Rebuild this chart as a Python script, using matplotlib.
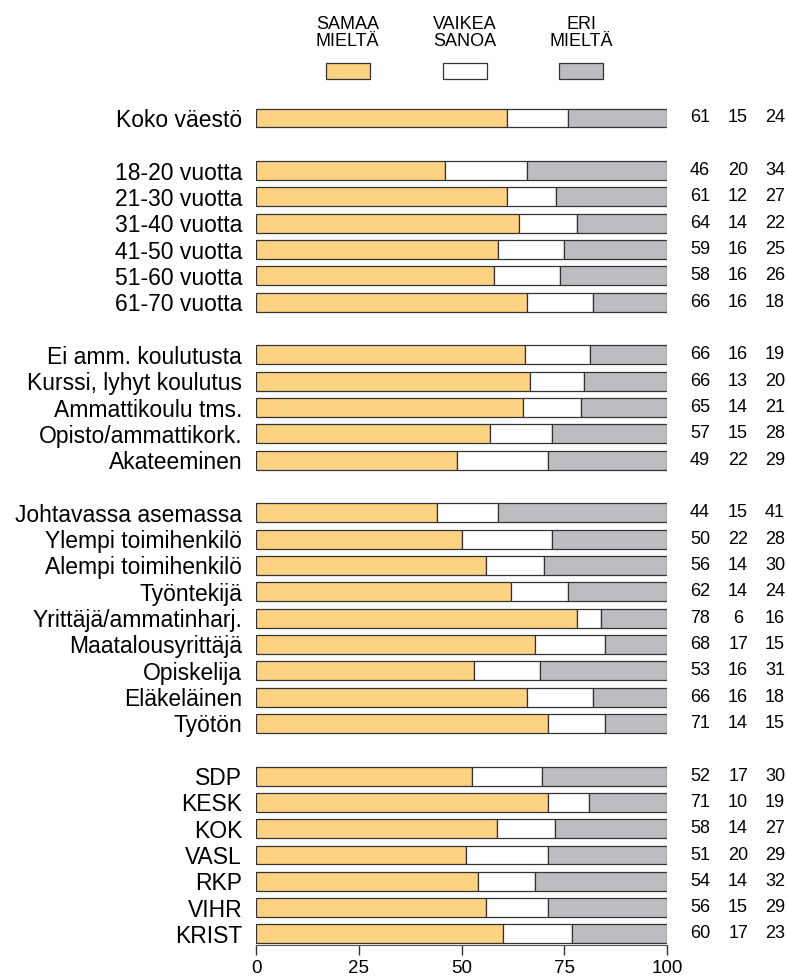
import matplotlib.pyplot as plt
import matplotlib.transforms as mtransforms
import numpy as np

plt.rcParams['font.family'] = ['Liberation Sans', 'DejaVu Sans']

# rows in display order, None marks a blank spacer row
labels = [
    "Koko väestö", None,
    "18-20 vuotta", "21-30 vuotta", "31-40 vuotta", "41-50 vuotta", "51-60 vuotta", "61-70 vuotta", None,
    "Ei amm. koulutusta", "Kurssi, lyhyt koulutus", "Ammattikoulu tms.", "Opisto/ammattikork.", "Akateeminen", None,
    "Johtavassa asemassa", "Ylempi toimihenkilö", "Alempi toimihenkilö", "Työntekijä",
    "Yrittäjä/ammatinharj.", "Maatalousyrittäjä", "Opiskelija", "Eläkeläinen", "Työtön", None,
    "SDP", "KESK", "KOK", "VASL", "RKP", "VIHR", "KRIST",
]
samaa = [61, 46, 61, 64, 59, 58, 66, 66, 66, 65, 57, 49,
         44, 50, 56, 62, 78, 68, 53, 66, 71, 52, 71, 58, 51, 54, 56, 60]
vaikea = [15, 20, 12, 14, 16, 16, 16, 16, 13, 14, 15, 22,
          15, 22, 14, 14, 6, 17, 16, 16, 14, 17, 10, 14, 20, 14, 15, 17]
eri = [24, 34, 27, 22, 25, 26, 18, 19, 20, 21, 28, 29,
       41, 28, 30, 24, 16, 15, 31, 18, 15, 30, 19, 27, 29, 32, 29, 23]

legend_labels = ["SAMAA\nMIELTÄ", "VAIKEA\nSANOA", "ERI\nMIELTÄ"]
colors = ["#fdd283", "#ffffff", "#bdbdc1"]

W, H = 787, 976
fig = plt.figure(figsize=(W / 100, H / 100), dpi=100)
ax = fig.add_axes([256 / W, 1 - 944.5 / H, 411 / W, (944.5 - 102.2) / H])

ypos = [i for i, lab in enumerate(labels) if lab is not None]
names = [lab for lab in labels if lab is not None]
vals = np.array([samaa, vaikea, eri], dtype=float)
shares = vals / vals.sum(axis=0) * 100
left = np.zeros(len(names))
for k in range(3):
    ax.barh(ypos, shares[k], left=left, height=0.72, color=colors[k],
            edgecolor="#333333", linewidth=0.9)
    left += shares[k]

ax.set_xlim(0, 100)
ax.set_ylim(len(labels) - 1 + 0.4, -0.6)
ax.set_yticks(ypos)
ax.set_yticklabels(names, fontsize=16.5)
ax.tick_params(axis="y", length=0, pad=10)
ax.set_xticks([0, 25, 50, 75, 100])
ax.tick_params(axis="x", labelsize=13.5, length=7, width=1, color="#333333", pad=4)
for s in ["top", "right", "left"]:
    ax.spines[s].set_visible(False)
ax.spines["bottom"].set_color("#555555")

# numbers on the right
tr = mtransforms.blended_transform_factory(ax.transAxes, ax.transData)
cols_x = [1.080, 1.173, 1.263]
for y, a, b, c in zip(ypos, samaa, vaikea, eri):
    for cx, v in zip(cols_x, (a, b, c)):
        ax.text(cx, y, str(v), transform=tr, ha="center", va="center", fontsize=13)

# legend above the chart
trl = mtransforms.blended_transform_factory(ax.transData, fig.transFigure)
for xc, lab, col in zip([22.3, 50.8, 79.1], legend_labels, colors):
    ax.text(xc, 1 - 33 / H, lab, transform=trl, ha="center", va="center",
            fontsize=13, linespacing=1.05, clip_on=False)
    box = plt.Rectangle((xc - 5.35, 1 - 79 / H), 10.7, 16 / H, transform=trl,
                        facecolor=col, edgecolor="#333333", linewidth=0.9, clip_on=False)
    ax.add_patch(box)

fig.savefig("out.png", dpi=100)
